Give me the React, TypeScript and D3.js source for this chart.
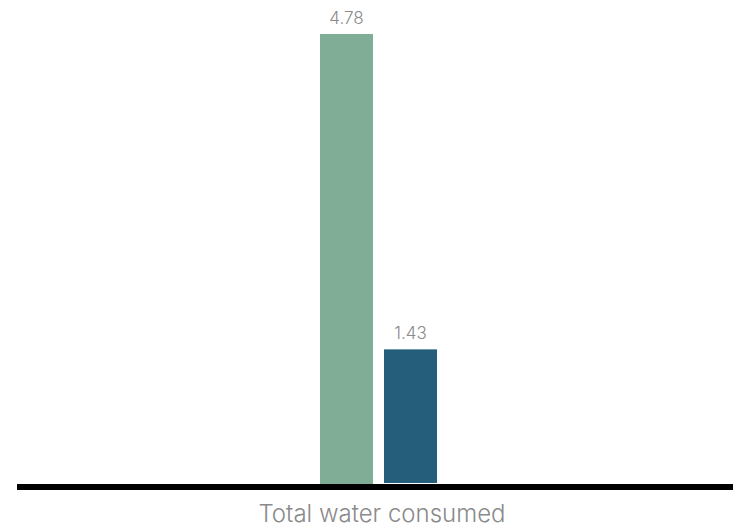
import React from "react";
import * as d3 from "d3";

const categories = ["Total water consumed"];
const seriesNames = ["Series A", "Series B"];
const seriesValues = [4.78, 1.43];
const seriesColors = ["#80ad95", "#255e7a"];

const W = 738;
const H = 526;

export default function App() {
  const baseY = 484;
  const y = d3.scaleLinear().domain([0, 4.78]).range([baseY, 34]);
  const x0 = d3.scaleBand<string>().domain(categories).range([20, 737]).padding(0);
  const groupW = 117;
  const x1 = d3
    .scaleBand<string>()
    .domain(seriesNames)
    .range([0, groupW])
    .paddingInner(11 / 64)
    .paddingOuter(0);

  return (
    <svg
      width={W}
      height={H}
      style={{ position: "absolute", left: 0, top: 0, fontFamily: "Inter, 'Liberation Sans', Arial, sans-serif" }}
    >
      {categories.map((c) => {
        const cx = (x0(c) ?? 0) + x0.bandwidth() / 2;
        const gx = cx - groupW / 2;
        return (
          <g key={c}>
            {seriesNames.map((s, i) => {
              const v = seriesValues[i];
              const bx = gx + (x1(s) ?? 0);
              const top = y(v);
              return (
                <g key={s}>
                  <rect
                    x={bx}
                    y={top}
                    width={x1.bandwidth()}
                    height={baseY - top - (i === 1 ? 1 : 0)}
                    fill={seriesColors[i]}
                  />
                  <text
                    x={bx + x1.bandwidth() / 2}
                    y={top - 10}
                    textAnchor="middle"
                    fontSize={17}
                    fontWeight={300}
                    fill="#8a8a8a"
                  >
                    {v.toFixed(2)}
                  </text>
                </g>
              );
            })}
            <text x={cx + 3.5} y={522} textAnchor="middle" fontSize={24} fontWeight={300} fill="#8a8a8a">
              {c}
            </text>
          </g>
        );
      })}
      <line x1={17} x2={733} y1={487} y2={487} stroke="#000" strokeWidth={6} />
    </svg>
  );
}
